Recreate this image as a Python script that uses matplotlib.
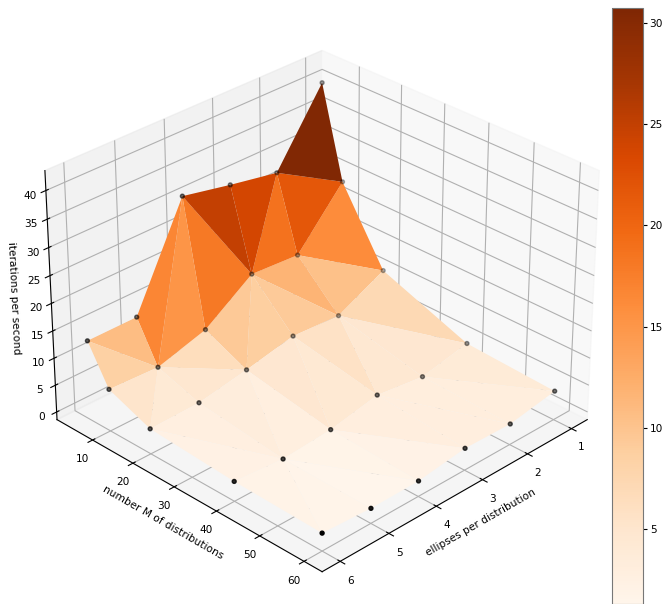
import matplotlib
matplotlib.use("Agg")
import matplotlib.pyplot as plt

ellipses = [1, 2, 3, 4, 5, 6]
m_values = [5, 10, 20, 40, 60]
z_m5 = [40.2, 27.5, 29.2, 31.1, 13.2, 13.2]
z_m10 = [23.7, 14.0, 14.6, 8.5, 5.9, 6.3]
z_m20 = [10.7, 6.4, 6.9, 5.0, 3.4, 3.2]
z_m40 = [4.7, 2.9, 4.0, 2.2, 1.5, 2.2]
z_m60 = [3.9, 2.4, 2.6, 1.4, 1.3, 1.8]
rows = [z_m5, z_m10, z_m20, z_m40, z_m60]
# Which diagonal splits each grid cell: 'A' joins (e+1, m)-(e, m+1), 'B' joins (e, m)-(e+1, m+1)
diagonals = ["ABABA", "AABAB", "ABBBA", "AAAAB"]

xs, ys, zs = [], [], []
for m, row in zip(m_values, rows):
    for e, z in zip(ellipses, row):
        xs.append(e); ys.append(m); zs.append(z)

triangles = []
n = len(ellipses)
for i, flags in enumerate(diagonals):
    for j, d in enumerate(flags):
        a, b, c, f = i*n+j, i*n+j+1, (i+1)*n+j, (i+1)*n+j+1
        if d == 'A':
            triangles += [[a, b, c], [b, c, f]]
        else:
            triangles += [[a, b, f], [a, c, f]]

fig = plt.figure(figsize=(6.64, 6.04), dpi=100)
ax = fig.add_axes([0.0245, 0.0, 0.897, 0.987], projection='3d')
surf = ax.plot_trisurf(xs, ys, zs, triangles=triangles, cmap='Oranges', linewidth=0,
                       antialiased=True, vmin=1.3, vmax=30.75)
ax.scatter(xs, ys, zs, color='black', s=8)
ax.view_init(elev=30, azim=45)
ax.set_zlim(-1.44, 43.45, view_margin=0)
ax.set_xlabel('ellipses per distribution', fontsize=7.6, labelpad=-4)
ax.set_ylabel('number M of distributions', fontsize=7.6, labelpad=-4)
ax.set_zlabel('iterations per second', fontsize=7.6, labelpad=-5.8)
ax.tick_params(labelsize=7.6, pad=0)
ax.tick_params(axis='z', pad=-1.5)
ax.set_yticks([10, 20, 30, 40, 50, 60])
ax.set_xticks(ellipses)
ax.set_zticks(range(0, 45, 5))
cax = fig.add_axes([0.922, 0.0, 0.046, 0.987])
cb = fig.colorbar(surf, cax=cax)
cb.ax.tick_params(labelsize=7.6, length=3, pad=2)
cb.outline.set_edgecolor('#777777')
fig.savefig('out.png', dpi=100)
